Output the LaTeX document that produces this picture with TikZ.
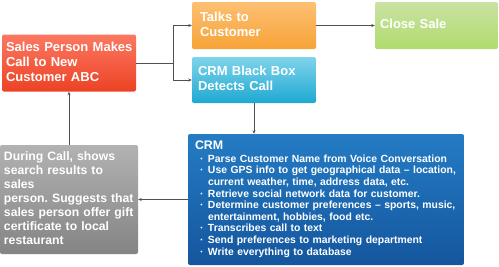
\documentclass[tikz,border=0pt]{standalone}
\usepackage{fontspec}
\setmainfont{Liberation Sans}
\usetikzlibrary{arrows.meta}
\frenchspacing
\definecolor{redtop}{RGB}{252,120,98}
\definecolor{redbot}{RGB}{236,66,36}
\definecolor{orgtop}{RGB}{253,192,115}
\definecolor{orgbot}{RGB}{247,163,55}
\definecolor{blutop}{RGB}{128,212,235}
\definecolor{blubot}{RGB}{30,168,210}
\definecolor{grntop}{RGB}{202,226,162}
\definecolor{grnbot}{RGB}{176,220,110}
\definecolor{grytop}{RGB}{178,178,178}
\definecolor{grybot}{RGB}{132,132,132}
\definecolor{crmtop}{RGB}{36,124,196}
\definecolor{crmbot}{RGB}{20,86,158}
\definecolor{linegray}{RGB}{80,80,80}
\newcommand\crmb{\makebox[13pt][l]{\hspace{5pt}·}}
\newcommand\boxlines[1]{\begin{tabular}{@{}l@{}}#1\end{tabular}}
\begin{document}
\begin{tikzpicture}[x=1pt,y=-1pt,
  box/.style={rectangle, rounded corners=2pt, text=white, align=left,
    font=\bfseries\fontsize{13}{15}\selectfont\frenchspacing},
  conn/.style={draw=linegray, line width=0.7pt},
  arr/.style={conn, -{Stealth[length=3.5pt,width=3pt]}}]
\useasboundingbox (0,0) rectangle (499,266);

\node[box, top color=redtop, bottom color=redbot, text width=126pt, inner xsep=4pt,
  minimum height=57pt] (red) at (69,63) {\boxlines{Sales Person Makes\\Call to New\\Customer ABC}};

\node[box, top color=orgtop, bottom color=orgbot, text width=108pt, inner xsep=8pt,
  minimum height=47pt] (orange) at (254,25.5) {\boxlines{Talks to\\Customer}\\[3pt]};

\node[box, top color=blutop, bottom color=blubot, text width=112pt, inner xsep=6pt,
  minimum height=46pt] (blue) at (254,80) {\boxlines{CRM Black Box\\Detects Call}};

\node[box, top color=grntop, bottom color=grnbot, text width=113pt, inner xsep=5pt,
  minimum height=47pt] (green) at (436.5,25.5) {\boxlines{Close Sale}};

\node[box, top color=grytop, bottom color=grybot, text width=130pt, inner xsep=4pt,
  minimum height=109pt, font=\bfseries\fontsize{12.2}{14}\selectfont\frenchspacing] (gray) at (69,199.5)
  {\boxlines{During Call, shows\\search results to\\sales\\person. Suggests that\\sales person offer gift\\certificate to local\\restaurant}};

\node[box, top color=crmtop, bottom color=crmbot, text width=262pt, inner xsep=7pt,
  minimum height=131pt, font=\bfseries\fontsize{10.4}{11.6}\selectfont\frenchspacing] (crm) at (326,199.5)
  {\boxlines{{\fontsize{12.4}{14}\selectfont CRM}\\[1.5pt]
   \crmb Parse Customer Name from Voice Conversation\\
   \crmb Use GPS info to get geographical data -- location,\\
   \hspace*{13pt}current weather, time, address data, etc.\\
   \crmb Retrieve social network data for customer.\\
   \crmb Determine customer preferences -- sports, music,\\
   \hspace*{13pt}entertainment, hobbies, food etc.\\
   \crmb Transcribes call to text\\
   \crmb Send preferences to marketing department\\
   \crmb Write everything to database}\\[5pt]};

\coordinate (j) at (173,63);
\draw[conn] (red.east) -- (j);
\draw[arr] (j) |- (orange.west);
\draw[arr] (j) |- (blue.west);
\draw[arr] (orange.east) -- (green.west);
\draw[arr] (blue.south) -- (blue.south |- crm.north);
\draw[arr] (crm.west) -- (gray.east);
\draw[arr] (gray.north) -- (red.south);
\end{tikzpicture}
\end{document}
